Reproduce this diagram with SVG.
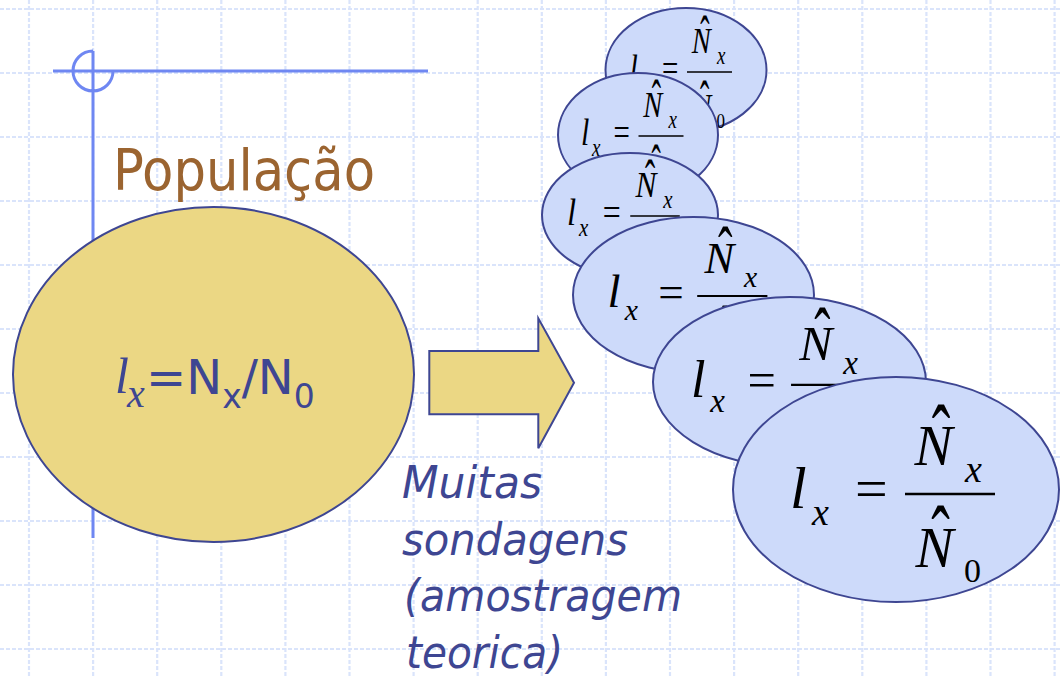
<svg xmlns="http://www.w3.org/2000/svg" width="1061" height="678" viewBox="0 0 1061 678">
<style>
.grid{fill:none;stroke:#dae4fb;stroke-width:2.2;stroke-dasharray:4 2}
.guide{fill:none;stroke:#6f87f2;stroke-width:3}
.pop{fill:#ebd784;stroke:#3e4692;stroke-width:2}
.samp{fill:#cddafa;stroke:#3e4692;stroke-width:2}
.mi{font-family:"Liberation Serif","Times New Roman",serif;font-style:italic;fill:#000}
.mr{font-family:"Liberation Serif","Times New Roman",serif;fill:#000}
.bar{stroke:#000;stroke-width:2.5}
.sans{font-family:"DejaVu Sans",Verdana,sans-serif}
</style>
<defs>
<g id="frac">
<text class="mi" x="0" y="0" font-size="60">l</text>
<text class="mi" x="22" y="17" font-size="38">x</text>
<text class="mr" x="65" y="0" font-size="58">=</text>
<line class="bar" x1="115" y1="-14" x2="205" y2="-14"/>
<text class="mi" x="124.5" y="-43" font-size="57">N</text>
<text class="mr" transform="translate(151,-40.5) scale(0.62,1)" font-size="90" text-anchor="middle">ˆ</text>
<text class="mi" x="175" y="-26" font-size="38">x</text>
<text class="mi" x="125.5" y="59" font-size="57">N</text>
<text class="mr" transform="translate(150.5,60.5) scale(0.62,1)" font-size="90" text-anchor="middle">ˆ</text>
<text class="mr" x="174" y="74" font-size="34">0</text>
</g>
</defs>
<g id="grid">
<path class="grid" d="M29,0V678M93.1,0V678M157.2,0V678M221.3,0V678M285.4,0V678M349.5,0V678M413.6,0V678M477.7,0V678M541.8,0V678M605.9,0V678M670,0V678M734.1,0V678M798.2,0V678M862.3,0V678M926.4,0V678M990.5,0V678M1054.6,0V678"/>
<path class="grid" d="M0,9H1061M0,73H1061M0,137H1061M0,201H1061M0,265H1061M0,329H1061M0,393H1061M0,457H1061M0,521H1061M0,585H1061M0,649H1061"/>
</g>
<g id="guide">
<path class="guide" d="M53,71H428M93,51V538M93,51A20,20 0 1,0 113,71"/>
</g>
<g id="title">
<text class="sans" x="113" y="190" font-size="57" fill="#9b6430" textLength="262" lengthAdjust="spacingAndGlyphs">População</text>
</g>
<g id="population">
<ellipse class="pop" cx="213.5" cy="374.5" rx="200.5" ry="167.5"/>
<text class="mi" x="115" y="393" font-size="50" style="fill:#3e4692">l</text>
<text class="mi" x="127" y="407" font-size="40" style="fill:#3e4692">x</text>
<text class="sans" x="146" y="394" font-size="48" fill="#3e4692">=N<tspan font-size="33" dy="14">x</tspan><tspan dy="-14">/N</tspan><tspan font-size="33" dy="14">0</tspan></text>
</g>
<g id="connectors">
<path id="arrow" class="pop" d="M429.3,351H538.3V318.3L574,382.7L538.3,448.3V414.3H429.3Z"/>
</g>
<g id="caption" class="sans" font-size="45" font-style="italic" fill="#3e4692">
<text x="402" y="498" textLength="140" lengthAdjust="spacingAndGlyphs">Muitas</text>
<text x="402" y="555" textLength="226" lengthAdjust="spacingAndGlyphs">sondagens</text>
<text x="404" y="611" textLength="278" lengthAdjust="spacingAndGlyphs">(amostragem</text>
<text x="406" y="668" textLength="157" lengthAdjust="spacingAndGlyphs">teorica)</text>
</g>
<g id="sample-1">
<ellipse class="samp" cx="686" cy="70" rx="80.5" ry="62"/>
<use href="#frac" transform="translate(629.5,81) scale(0.5,0.64)"/>
</g>
<g id="sample-2">
<ellipse class="samp" cx="638" cy="135" rx="80" ry="62"/>
<use href="#frac" transform="translate(581,145) scale(0.5,0.64)"/>
</g>
<g id="sample-3">
<ellipse class="samp" cx="630" cy="215" rx="88" ry="62"/>
<use href="#frac" transform="translate(567,225) scale(0.55,0.64)"/>
</g>
<g id="sample-4">
<ellipse class="samp" cx="693.5" cy="295" rx="120.5" ry="78"/>
<use href="#frac" transform="translate(607.5,307) scale(0.78)"/>
</g>
<g id="sample-5">
<ellipse class="samp" cx="789.5" cy="382" rx="136.5" ry="85"/>
<use href="#frac" transform="translate(691,397) scale(0.87)"/>
</g>
<g id="sample-6">
<ellipse class="samp" cx="896" cy="489.5" rx="163" ry="112.5"/>
<use href="#frac" transform="translate(790,508)"/>
</g>
</svg>
